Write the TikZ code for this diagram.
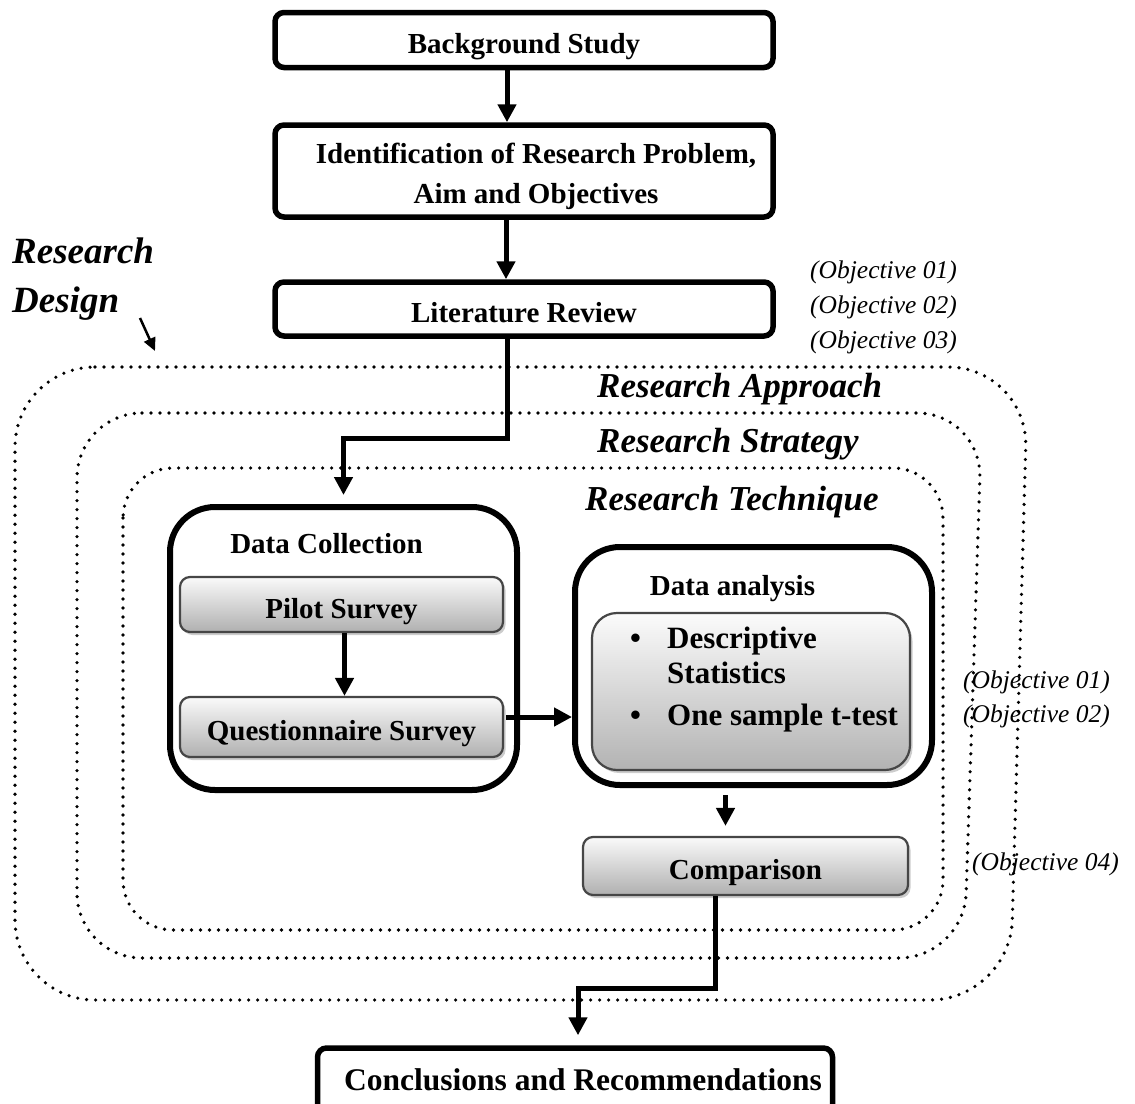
\documentclass[tikz,border=0pt]{standalone}
\usepackage{fontspec}
\setmainfont{Liberation Serif}
\usetikzlibrary{arrows.meta,shadows,calc}

\begin{document}
\begin{tikzpicture}[x=1pt,y=-1pt,
  boxfont/.style={font=\fontsize{29}{40}\selectfont\bfseries},
  boxtext/.style={boxfont, text height=27pt, text depth=0pt},
  blackbox/.style={boxtext, draw=black, line width=5.5pt, rounded corners=9pt,
    fill=white, inner sep=0pt},
  container/.style={draw=black, line width=6pt, rounded corners=45pt, inner sep=0pt},
  graybox/.style={boxtext, draw=gray!55!black, line width=2.2pt, rounded corners=10pt,
    top color=gray!4, bottom color=gray!62, inner sep=0pt,
    drop shadow={shadow xshift=2.5pt, shadow yshift=-3pt, fill=gray!40, opacity=1}},
  innerbox/.style={draw=gray!55!black, line width=2.2pt, rounded corners=25pt,
    top color=gray!3, bottom color=gray!60, inner sep=0pt,
    drop shadow={shadow xshift=2.5pt, shadow yshift=-3pt, fill=gray!40, opacity=1}},
  dotline/.style={line width=3.6pt, line cap=round, dash pattern=on 0pt off 9pt},
  flow/.style={line width=5pt, -{Triangle[length=18pt,width=18pt]}},
  layertitle/.style={font=\fontsize{35}{35}\selectfont\bfseries\itshape, inner sep=0pt, anchor=base west},
  objective/.style={font=\fontsize{25.5}{25.5}\selectfont\itshape, inner sep=0pt, anchor=base west},
  bullettext/.style={font=\fontsize{31}{31}\selectfont\bfseries, inner sep=0pt, anchor=base west},
  title/.style={boxfont, inner sep=0pt, anchor=base},
]
\useasboundingbox (0,0) rectangle (1135,1103);
\clip (0,0) rectangle (1135,1103);

% nested research design layers
\draw[dotline, rounded corners=80pt] (15,367) -- (1028,367) -- (1010,1000) -- (15,1000) -- cycle;
\draw[dotline, rounded corners=65pt] (77,413) -- (982,413) -- (964,958) -- (77,958) -- cycle;
\draw[dotline, rounded corners=50pt] (123,468) rectangle (943,930);

\node[layertitle] (approach) at (597,397) {Research Approach};
\node[layertitle] (strategy) at (597,452) {Research Strategy};
\node[layertitle] (technique) at (585,510) {Research Technique};

% research design label
\node[font=\fontsize{37}{37}\selectfont\bfseries\itshape, inner sep=0pt, anchor=base west] (rd1) at (12,263) {Research};
\node[font=\fontsize{37}{37}\selectfont\bfseries\itshape, inner sep=0pt, anchor=base west] (rd2) at (12,312) {Design};
\coordinate (rdA) at (140,318);
\coordinate (rdB) at (155,351);
\draw[line width=2.5pt, -{Triangle[length=13pt,width=12pt]}] (rdA) -- (rdB);

% main flow boxes
\node[blackbox, minimum width=498pt, minimum height=55pt] (bg) at (524,40) {Background Study};
\node[blackbox, minimum width=498pt, minimum height=92pt] (idp) at (524,171) {};
\node[title, align=center] (idptext) at (536,203)
  {Identification of Research Problem,\\ Aim and Objectives};
\node[blackbox, minimum width=498pt, minimum height=54pt] (lit) at (524,309) {Literature Review};

\node[objective] (o1) at (810,278) {(Objective 01)};
\node[objective] (o2) at (810,313) {(Objective 02)};
\node[objective] (o3) at (810,348) {(Objective 03)};

% data collection
\node[container, minimum width=347pt, minimum height=283pt] (dc) at (343.5,648.5) {};
\node[title] (dctitle) at (326.5,553) {Data Collection};
\node[graybox, minimum width=323pt, minimum height=55pt] (pilot) at (341.5,604.5) {Pilot Survey};
\node[graybox, minimum width=323pt, minimum height=60pt] (qs) at (341.5,727) {Questionnaire Survey};

% data analysis
\node[container, minimum width=357pt, minimum height=238pt] (da) at (753.5,666) {};
\node[title] (datitle) at (732.5,595) {Data analysis};
\node[innerbox, minimum width=318pt, minimum height=157pt] (dain) at (751,691.5) {};
\node[bullettext] (b1) at (630,648) {\textbullet};
\node[bullettext] (t1) at (667,648) {Descriptive};
\node[bullettext] (t2) at (667,683) {Statistics};
\node[bullettext] (b2) at (630,725) {\textbullet};
\node[bullettext] (t3) at (667,725) {One sample t-test};

\node[graybox, minimum width=325pt, minimum height=58pt] (cmp) at (745.5,866) {Comparison};

\node[objective] (o1b) at (963,688) {(Objective 01)};
\node[objective] (o2b) at (963,722) {(Objective 02)};
\node[objective] (o4) at (972,870) {(Objective 04)};

% final box runs past the lower edge
\node[blackbox, minimum width=515pt, minimum height=80pt] (concl) at (575,1088) {};
\node[title, font=\fontsize{31.5}{31.5}\selectfont\bfseries] (concltext) at (583,1090)
  {Conclusions and Recommendations};

% connectors
\draw[flow] ([xshift=-17pt]bg.south) -- ([xshift=-17pt]idp.north);
\draw[flow] ([xshift=-18pt]idp.south) -- ([xshift=-18pt]lit.north);
\draw[flow] ([xshift=-17pt]lit.south) -- ++(0,100) -| ([yshift=9pt]dc.north);
\draw[flow] ([xshift=3pt]pilot.south) -- ([xshift=3pt]qs.north);
\coordinate (qa) at ($(qs.east)+(2,-10)$);
\draw[flow] (qa) -- (qa -| da.west);
\draw[flow] ([xshift=-28pt,yshift=-7pt]da.south) -- ([xshift=-20pt,yshift=10pt]cmp.north);
\draw[flow] ([xshift=-30pt]cmp.south) -- ++(0,92) -| ([xshift=3pt,yshift=10pt]concl.north);
\end{tikzpicture}
\end{document}
